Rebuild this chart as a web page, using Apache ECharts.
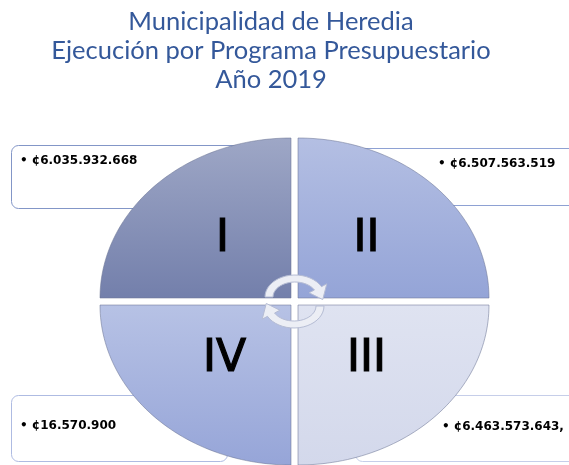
<!DOCTYPE html>
<html>
<head>
<meta charset="utf-8">
<script src="https://cdn.jsdelivr.net/npm/echarts@6/dist/echarts.min.js"></script>
<style>
  html, body { margin: 0; padding: 0; background: #fff; }
  #main { width: 569px; height: 465px; }
</style>
</head>
<body>
<div id="main"></div>
<script>
// datos
const titulo = ['Municipalidad de Heredia', 'Ejecución por Programa Presupuestario', 'Año 2019'];
const programas = ['I', 'II', 'III', 'IV'];
const montos = ['¢6.035.932.668', '¢6.507.563.519', '¢6.463.573.643,', '¢16.570.900'];

// signos de cada cuadrante (I arriba-izq, II arriba-der, III abajo-der, IV abajo-izq)
const signos = [[-1, -1], [1, -1], [1, 1], [-1, 1]];
const degradados = [
  ['#9ea7c6', '#737fab'],
  ['#b4bfe3', '#94a4d7'],
  ['#dfe3f1', '#d3d8eb'],
  ['#b7c2e5', '#96a5d8']
];
// cajas de texto detrás del círculo
const cajas = [
  { x: 11, y: 145, w: 240, h: 63, borde: '#8396c7', tx: 20, ty: 161 },
  { x: 355, y: 148, w: 240, h: 57, borde: '#8ea1d3', tx: 438, ty: 164 },
  { x: 355, y: 395, w: 240, h: 66, borde: '#c6cee9', tx: 442, ty: 427 },
  { x: 11, y: 395, w: 216, h: 66, borde: '#aebbe2', tx: 20, ty: 426 }
];
const offsetNum = [[-72, -62], [72, -62], [72, 58], [-70, 58]];

var chartDom = document.getElementById('main');
var myChart = echarts.init(chartDom);

// flecha curva (arriba), se gira 180 grados para la de abajo
function puntosFlecha(cx, cy, rot) {
  var pts = [];
  var rxo = 30, ryo = 22, rxi = 22, ryi = 15;
  var te = 28;
  function p(rx, ry, deg) {
    var t = deg * Math.PI / 180;
    var x = rx * Math.cos(t), y = -ry * Math.sin(t);
    if (rot) { x = -x; y = -y; }
    return [cx + x, cy + y];
  }
  for (var a = 180; a >= te; a -= 8) pts.push(p(rxo, ryo, a));
  pts.push(p(rxo, ryo, te));
  pts.push(p(rxo + 6, ryo + 6, te));
  pts.push(p((rxo + rxi) / 2 + 2, (ryo + ryi) / 2, -8));
  pts.push(p(rxi - 6, ryi - 6, te));
  pts.push(p(rxi, ryi, te));
  for (var b = te; b <= 180; b += 8) pts.push(p(rxi, ryi, b));
  pts.push(p(rxi, ryi, 180));
  return pts;
}

var option = {
  animation: false,
  grid: { left: 100, top: 138, width: 389, height: 327 },
  xAxis: { type: 'value', min: -1, max: 1, show: false },
  yAxis: { type: 'value', min: -1, max: 1, show: false },
  graphic: [
    {
      type: 'text', z: 20,
      style: {
        text: titulo.join('\n'), x: 271, y: 7, align: 'center',
        font: 'normal 25.5px Lato', lineHeight: 29, fill: '#34589a'
      }
    },
    {
      type: 'polygon', z: 20,
      shape: { points: puntosFlecha(295, 297, false) },
      style: { fill: '#eceef5', stroke: '#b5bcd4', lineWidth: 1 }
    },
    {
      type: 'polygon', z: 20,
      shape: { points: puntosFlecha(294, 306, true) },
      style: { fill: '#eceef5', stroke: '#b5bcd4', lineWidth: 1 }
    }
  ],
  series: [
    {
      // cajas con los montos
      type: 'custom',
      z: 1,
      silent: true,
      data: programas.map(function (p, i) { return [i]; }),
      renderItem: function (params, api) {
        var i = api.value(0);
        var c = cajas[i];
        return {
          type: 'group',
          children: [
            {
              type: 'rect',
              shape: { x: c.x + 0.5, y: c.y + 0.5, width: c.w, height: c.h, r: 7 },
              style: { fill: '#fff', stroke: c.borde, lineWidth: 1 }
            },
            {
              type: 'text',
              style: {
                text: '• ' + montos[i], x: c.tx, y: c.ty,
                verticalAlign: 'middle', font: 'bold 12px "DejaVu Sans"', fill: '#000'
              }
            }
          ]
        };
      }
    },
    {
      // cuadrantes del círculo
      type: 'custom',
      z: 2,
      silent: true,
      data: programas.map(function (p, i) { return [i]; }),
      renderItem: function (params, api) {
        var i = api.value(0);
        var c = api.coord([0, 0]);
        var e = api.coord([1, 1]);
        var g = 3.5;
        var rx = (e[0] - c[0]) - g;
        var ry = (c[1] - e[1]) - g;
        var sx = signos[i][0], sy = signos[i][1];
        var ox = c[0] + sx * g, oy = c[1] + sy * g;
        var pts = [[ox, oy]];
        for (var k = 0; k <= 60; k++) {
          var t = k / 60 * Math.PI / 2;
          pts.push([ox + sx * rx * Math.cos(t), oy + sy * ry * Math.sin(t)]);
        }
        var col = degradados[i];
        return {
          type: 'group',
          children: [
            {
              type: 'polygon',
              shape: { points: pts },
              style: {
                fill: new echarts.graphic.LinearGradient(0, 0, 0, 1, [
                  { offset: 0, color: col[0] },
                  { offset: 1, color: col[1] }
                ]),
                stroke: 'rgba(110,118,150,0.55)', lineWidth: 1
              }
            },
            {
              type: 'text',
              style: {
                text: programas[i], x: c[0] + offsetNum[i][0], y: c[1] + offsetNum[i][1],
                align: 'center', verticalAlign: 'middle',
                font: 'normal 44px "DejaVu Sans"', fill: '#000',
                stroke: '#000', lineWidth: 1.2
              }
            }
          ]
        };
      }
    }
  ]
};
option && myChart.setOption(option);
</script>
</body>
</html>
